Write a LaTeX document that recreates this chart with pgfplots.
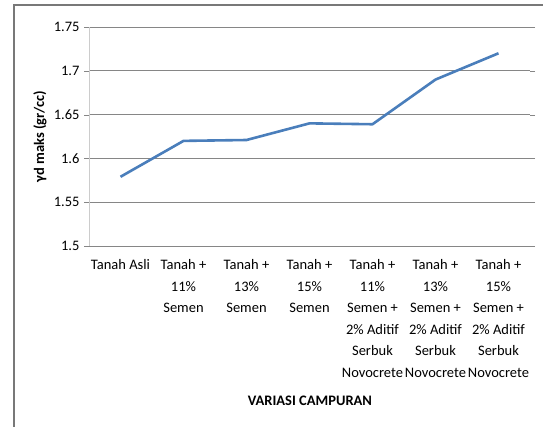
\documentclass[border=0pt]{standalone}
\usepackage{pgfplots}
\pgfplotsset{compat=1.18}
\usepackage{fontspec}
\setmainfont{Carlito}
\definecolor{xlblue}{RGB}{74,126,187}
\definecolor{gridgray}{RGB}{134,134,134}
\definecolor{framegray}{RGB}{120,120,120}

\begin{document}
\begin{tikzpicture}
\useasboundingbox (0pt,0pt) rectangle (543pt,426pt);

\begin{axis}[
  at={(89pt,180pt)}, anchor=south west,
  scale only axis,
  width=441pt, height=219pt,
  xmin=-0.5, xmax=6.5,
  ymin=1.5, ymax=1.75,
  ytick={1.5,1.55,...,1.75},
  yticklabels={1.5,1.55,1.6,1.65,1.7,1.75},
  xtick={0,...,6},
  xticklabels={
    Tanah Asli,
    Tanah +\\11\%\\Semen,
    Tanah +\\13\%\\Semen,
    Tanah +\\15\%\\Semen,
    Tanah +\\11\%\\Semen +\\2\% Aditif\\Serbuk\\Novocrete,
    Tanah +\\13\%\\Semen +\\2\% Aditif\\Serbuk\\Novocrete,
    Tanah +\\15\%\\Semen +\\2\% Aditif\\Serbuk\\Novocrete},
  xticklabel style={font=\fontsize{14.5}{21.5}\selectfont, align=center, anchor=north, yshift=-5pt},
  yticklabel style={font=\fontsize{14.5}{16}\selectfont, xshift=-1pt},
  /pgf/number format/assume math mode=true,
  major x tick style={draw=none},
  ytick style={gridgray},
  tick align=outside,
  major tick length=5pt,
  ymajorgrids,
  grid style={gridgray, line width=0.8pt},
  axis line style={draw=none},
  clip=false,
  ylabel={\bfseries γd maks (gr/cc)},
  ylabel style={font=\fontsize{14.5}{16}\selectfont, at={(axis description cs:-0.111,0.5)}, anchor=center},
  xlabel={\bfseries VARIASI CAMPURAN},
  xlabel style={font=\fontsize{14.5}{16}\selectfont, at={(axis description cs:0.501,-0.708)}, anchor=center},
]
\draw[gray!40, line width=0.8pt] (axis cs:-0.5,1.5) -- (axis cs:-0.5,1.75);
\draw[gridgray, line width=0.8pt] (axis cs:-0.5,1.5) -- (axis cs:6.5,1.5);
\addplot[xlblue, line width=2.6pt, line join=round] coordinates {
  (0,1.579) (1,1.620) (2,1.621) (3,1.640) (4,1.639) (5,1.690) (6,1.720)
};
% outer chart frame (left and top only visible)
\draw[framegray, line width=1.6pt] (rel axis cs:-0.17,-1) |- (rel axis cs:1.05,1.1);
\end{axis}
\end{tikzpicture}
\end{document}
